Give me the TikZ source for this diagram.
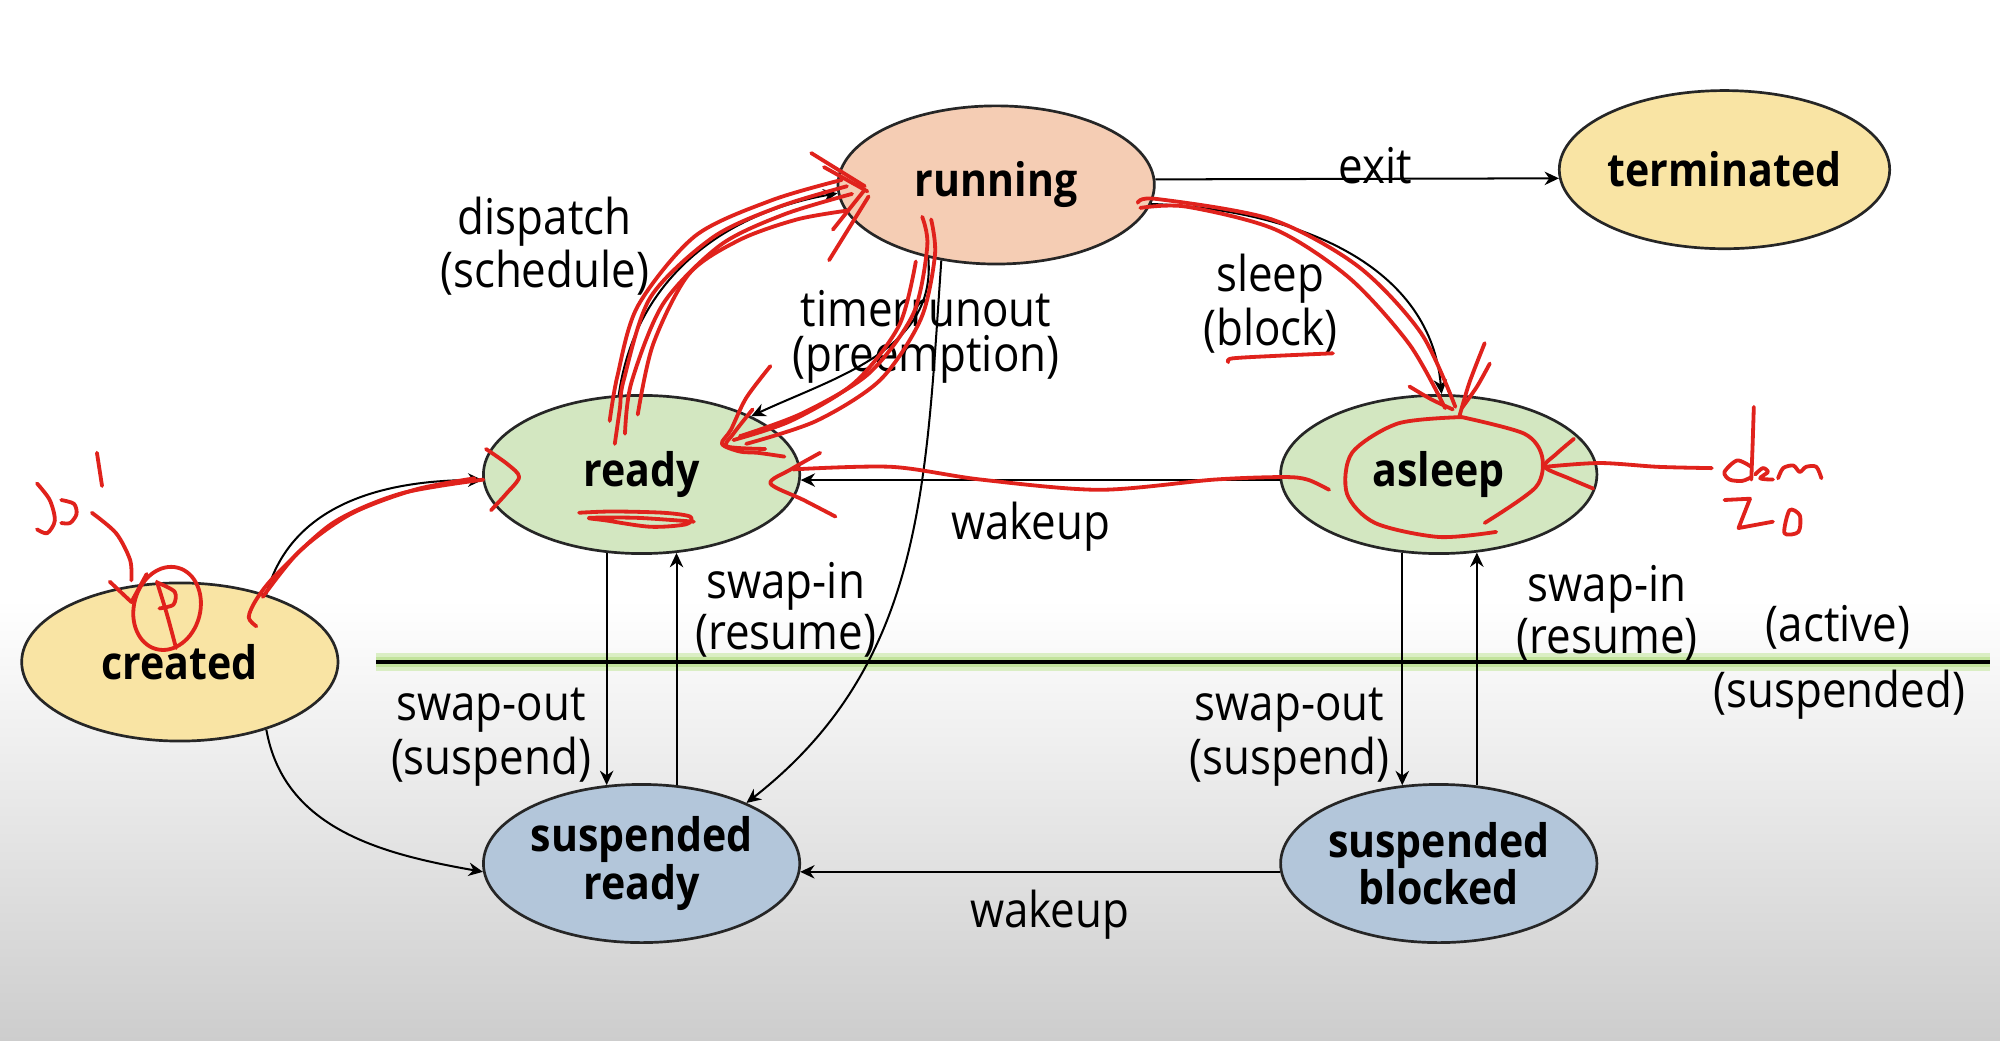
\documentclass[tikz,border=0pt]{standalone}
\usepackage{fontspec}
\setmainfont{Open Sans}[FakeStretch=0.89]
\usetikzlibrary{shapes.geometric,arrows.meta}
\definecolor{runfill}{HTML}{F5CDB4}
\definecolor{yelfill}{HTML}{F9E4A4}
\definecolor{grnfill}{HTML}{D3E7C1}
\definecolor{blufill}{HTML}{B3C6DA}
\definecolor{inkred}{HTML}{E0221C}
\definecolor{glow}{HTML}{C2E39C}
\definecolor{bgbot}{HTML}{CDCDCD}
\begin{document}
\begin{tikzpicture}[x=0.1mm,y=0.1mm,
	state/.style={ellipse,draw=black!85,line width=0.6pt,minimum width=24.8mm,minimum height=12.4mm,inner sep=0pt,align=center,font=\fontsize{10.3}{10.6}\selectfont\bfseries},
	lbl/.style={align=center,inner sep=0pt,font=\fontsize{11}{10}\selectfont},
	edge/.style={black,line width=0.45pt,-{Stealth[length=3.2pt,width=3pt]}},
	scrib/.style={inkred,line width=0.85pt,line cap=round,line join=round}]
	\useasboundingbox (0,0) rectangle (1568,-816);
	\fill [white] (0,0) rectangle (1568,-816);
	\shade [top color=white,bottom color=bgbot] (0,-470) rectangle (1568,-816);
	\coordinate (divL) at (295,-519);
	\coordinate (divR) at (1560,-519);
	\draw [glow!60,line width=4pt] (divL) -- (divR);
	\draw [glow,line width=2.2pt] (divL) -- (divR);
	\draw [black,line width=0.8pt] (divL) -- (divR);
	\node [state,fill=runfill] (running) at (781,-145) {running};
	\node [state,fill=yelfill] (terminated) at (1352,-133) {terminated};
	\node [state,fill=grnfill] (ready) at (503,-372) {ready};
	\node [state,fill=grnfill] (asleep) at (1128,-372) {asleep};
	\node [state,fill=yelfill] (created) at (141,-519) {created};
	\node [state,fill=blufill] (sready) at (503,-677) {suspended\\ready};
	\node [state,fill=blufill] (sblocked) at (1128,-677) {suspended\\blocked};
	\draw [edge] (running.2) -- (terminated.183);
	\node [lbl] (exitlbl) at (1078,-130) {exit};
	\draw [edge] (ready.106) to [out=82,in=190] (running.183);
	\node [lbl] (dispatchlbl) at (427,-193) {dispatch\\(schedule)};
	\draw [edge] (running.-133) to [out=-85,in=25] (ready.28);
	\node [lbl] (timerlbl) at (726,-264) {timerrunout\\(preemption)};
	\draw [edge] (running.-7) to [out=-2,in=95] (asleep.88);
	\node [lbl] (sleeplbl) at (996,-238) {sleep\\(block)};
	\draw [edge] (asleep.182) -- (ready.-2);
	\node [lbl] (wakeuplbl) at (808,-413) {wakeup};
	\draw [edge] (created.38) to [out=75,in=180] (ready.182);
	\draw [edge] (created.-38) to [out=-80,in=170] (sready.183);
	\draw [edge] (running.-126) to [out=-94,in=38] (sready.30);
	\draw [edge] (ready.-114) -- (sready.114);
	\node [lbl] (swapoutL) at (385,-578) {swap-out\\(suspend)};
	\draw [edge] (sready.66) -- (ready.-66);
	\node [lbl] (swapinL) at (616,-478) {swap-in\\(resume)};
	\draw [edge] (asleep.-115) -- (sblocked.115);
	\node [lbl] (swapoutR) at (1011,-578) {swap-out\\(suspend)};
	\draw [edge] (sblocked.64) -- (asleep.-64);
	\node [lbl] (swapinR) at (1260,-481) {swap-in\\(resume)};
	\draw [edge] (sblocked.183) -- (sready.-3);
	\node [lbl] (wakeuplbl2) at (823,-717) {wakeup};
	\node [lbl] (activelbl) at (1441,-492) {(active)};
	\node [lbl] (susplbl) at (1442,-545) {(suspended)};
	\draw [scrib] plot [smooth] coordinates {(201,-491) (195,-484) (201,-470) (217,-450) (261,-410) (314,-387) (379,-376)};
	\draw [scrib] plot [smooth] coordinates {(206,-468) (235,-432) (275,-403) (325,-384) (372,-375)};
	\draw [scrib] plot [smooth] coordinates {(381,-352) (398,-364) (407,-374) (397,-387) (385,-400)};
	\draw [scrib] plot [smooth] coordinates {(482,-348) (486,-320) (489,-298) (510,-233) (559,-186) (611,-162) (664,-146)};
	\draw [scrib] plot [smooth] coordinates {(490,-340) (495,-300) (520,-238) (565,-192) (615,-168) (668,-152)};
	\draw [scrib] plot [smooth] coordinates {(478,-330) (484,-295) (500,-240) (545,-185) (605,-157) (660,-141)};
	\draw [scrib] plot [smooth] coordinates {(500,-325) (512,-270) (540,-215) (580,-188) (625,-172) (665,-165)};
	\draw [scrib] (636,-120) -- (678,-146);
	\draw [scrib] (646,-131) -- (680,-150);
	\draw [scrib] (650,-204) -- (681,-154);
	\draw [scrib] (653,-180) -- (677,-150);
	\draw [scrib] plot [smooth] coordinates {(723,-170) (727,-193) (716,-246) (681,-293) (629,-324) (580,-342)};
	\draw [scrib] plot [smooth] coordinates {(730,-172) (733,-200) (722,-250) (690,-298) (640,-330) (585,-348)};
	\draw [scrib] plot [smooth] coordinates {(718,-205) (705,-255) (670,-300) (620,-330) (575,-345)};
	\draw [scrib] plot [smooth] coordinates {(604,-287) (585,-312) (573,-337) (566,-348) (580,-354) (594,-355) (615,-358)};
	\draw [scrib] plot [smooth] coordinates {(590,-321) (575,-340) (570,-350) (600,-352)};
	\draw [scrib] plot [smooth] coordinates {(454,-402) (480,-401) (520,-402) (541,-405) (538,-411) (510,-413) (475,-408) (462,-406) (500,-406) (544,-409)};
	\draw [scrib] plot [smooth] coordinates {(1042,-384) (1025,-376) (1006,-374) (952,-376) (862,-384) (769,-376) (699,-366) (622,-368)};
	\draw [scrib] plot [smooth] coordinates {(643,-355) (620,-368) (604,-379) (630,-392) (655,-405)};
	\draw [scrib] plot [smooth] coordinates {(892,-159) (907,-156) (997,-172) (1065,-209) (1114,-261) (1141,-319)};
	\draw [scrib] plot [smooth] coordinates {(894,-163) (930,-162) (1000,-180) (1058,-218) (1105,-270) (1133,-320)};
	\draw [scrib] plot [smooth] coordinates {(1105,-303) (1122,-313) (1139,-321)};
	\draw [scrib] plot [smooth] coordinates {(1164,-269) (1152,-300) (1144,-327)};
	\draw [scrib] plot [smooth] coordinates {(1168,-285) (1158,-303) (1146,-320)};
	\draw [scrib] plot [smooth] coordinates {(1146,-327) (1096,-332) (1060,-355) (1056,-387) (1078,-410) (1128,-421) (1173,-417)};
	\draw [scrib] plot [smooth] coordinates {(1146,-327) (1195,-340) (1209,-358) (1204,-382) (1164,-410)};
	\draw [scrib] plot [smooth] coordinates {(1234,-344) (1220,-356) (1211,-366) (1230,-375) (1249,-383)};
	\draw [scrib] plot [smooth] coordinates {(1211,-366) (1254,-363) (1300,-366) (1342,-367)};
	\draw [scrib] plot [smooth] coordinates {(963,-284) (966,-281) (1000,-279) (1045,-277)};
	\draw [scrib] plot [smooth] coordinates {(1375,-319) (1374,-350) (1373,-376)};
	\draw [scrib] plot [smooth] coordinates {(1373,-366) (1362,-361) (1352,-370) (1356,-376) (1366,-377) (1373,-374)};
	\draw [scrib] plot [smooth] coordinates {(1376,-372) (1382,-367) (1386,-370) (1380,-375) (1390,-376)};
	\draw [scrib] plot [smooth] coordinates {(1394,-375) (1398,-367) (1406,-365) (1411,-370) (1416,-366) (1424,-366) (1428,-375)};
	\draw [scrib] (1352,-392) -- (1372,-391) -- (1363,-414) -- (1390,-409);
	\draw [scrib] plot [smooth cycle] coordinates {(1403,-400) (1411,-404) (1410,-417) (1399,-418)};
	\draw [scrib] plot [smooth] coordinates {(29,-379) (39,-392) (43,-408) (37,-418) (29,-415)};
	\draw [scrib] plot [smooth] coordinates {(48,-392) (58,-395) (60,-403) (55,-410) (48,-410)};
	\draw [scrib] plot [smooth] coordinates {(76,-355) (78,-368) (80,-381)};
	\draw [scrib] plot [smooth] coordinates {(72,-402) (91,-418) (102,-439) (103,-455)};
	\draw [scrib] (86,-456) -- (103,-472) -- (115,-450);
	\draw [scrib,rotate around={-15:(131,-477)}] (131,-477) ellipse [x radius=26,y radius=33];
	\draw [scrib] plot [smooth] coordinates {(123,-456) (131,-482) (138,-508)};
	\draw [scrib] plot [smooth] coordinates {(124,-457) (137,-464) (136,-474) (125,-477)};
\end{tikzpicture}
\end{document}
